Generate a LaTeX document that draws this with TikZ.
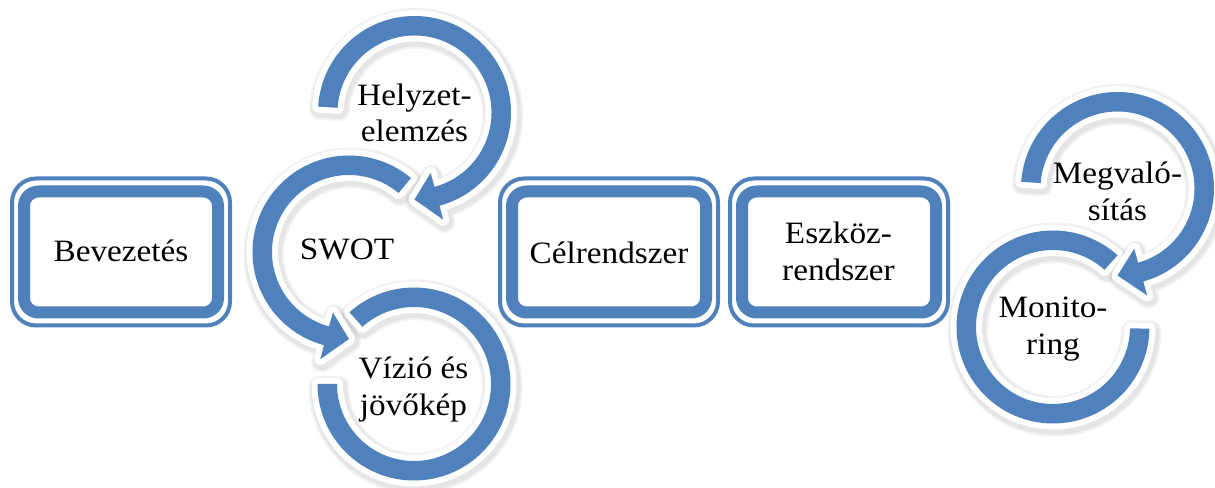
\documentclass[tikz,border=0pt]{standalone}
\usepackage{fontspec}
\setmainfont[FakeStretch=1.07]{Liberation Serif}
\definecolor{ablue}{RGB}{79,129,189}
\tikzset{
  lbl/.style={font=\fontsize{23.3pt}{27.6pt}\selectfont, align=center, inner sep=0pt, text=black},
  boxline/.style={draw=ablue, line width=3pt, rounded corners=18pt},
  boxband/.style={draw=ablue, line width=9pt, rounded corners=11pt},
  arrowshape/.style n args={3}{insert path={(#1:96.5) arc[start angle=#1,end angle=#2,radius=96.5] -- (#2:111) -- (#3:87) -- (#2:62.5) -- (#2:77) arc[start angle=#2,end angle=#1,radius=77] -- cycle}},
  ringshape/.style n args={2}{insert path={(#1:96.5) arc[start angle=#1,end angle=#2,radius=96.5] -- (#2:77) arc[start angle=#2,end angle=#1,radius=77] -- cycle}},
  shadowlayer/.style={draw=black, line join=round, draw opacity=0.05},
  whiteedge/.style={draw=white, fill=white, line width=9pt, line join=round},
  bluefill/.style={fill=ablue},
}
\newcommand\ArrowRing[4]{%
  \begin{scope}[shift={(#1)}]
    \path[shadowlayer, line width=16pt, shift={(1.5,2.5)}, arrowshape={#2}{#3}{#4}];
    \path[shadowlayer, line width=13pt, shift={(1.5,2.5)}, arrowshape={#2}{#3}{#4}];
    \path[whiteedge, arrowshape={#2}{#3}{#4}];
    \path[bluefill, arrowshape={#2}{#3}{#4}];
  \end{scope}}
\newcommand\PlainRing[3]{%
  \begin{scope}[shift={(#1)}]
    \path[shadowlayer, line width=16pt, shift={(1.5,2.5)}, ringshape={#2}{#3}];
    \path[shadowlayer, line width=13pt, shift={(1.5,2.5)}, ringshape={#2}{#3}];
    \path[whiteedge, ringshape={#2}{#3}];
    \path[bluefill, ringshape={#2}{#3}];
  \end{scope}}
\begin{document}
\begin{tikzpicture}[x=0.75pt,y=-0.75pt]
  \fill[white] (0,0) rectangle (1215,488);
  \useasboundingbox (0,0) rectangle (1215,488);
  % boxes
  \draw[boxline] (12,178.5) rectangle (230,325.5);
  \draw[boxband] (24,191.5) rectangle (218,312.5);
  \draw[boxline] (500,178.5) rectangle (718,325.5);
  \draw[boxband] (512,191.5) rectangle (706,312.5);
  \draw[boxline] (730,178.5) rectangle (948,325.5);
  \draw[boxband] (742,191.5) rectangle (936,312.5);
  % circular arrows
  \PlainRing{414,384}{180}{-132}
  \ArrowRing{349,252}{310}{105}{90}
  \ArrowRing{414.5,112.5}{183.5}{435}{450}
  \PlainRing{1053,327}{1}{312}
  \ArrowRing{1117.5,188.5}{184}{434.5}{450}
  % labels
  \node[lbl, anchor=base] (bev) at (121,262) {Bevezetés};
  \node[lbl, anchor=base] (cel) at (609,263.5) {Célrendszer};
  \node[lbl] (esz) at (838.5,251.4) {Eszköz-\\rendszer};
  \node[lbl] (hely) at (414.5,112.8) {Helyzet-\\elemzés};
  \node[lbl, anchor=base] (swot) at (347,260) {SWOT};
  \node[lbl] (viz) at (413.5,389.5) {Vízió és\\jövőkép};
  \node[lbl] (meg) at (1117.5,191) {Megvaló-\\sítás};
  \node[lbl] (mon) at (1053,329.4) {Monito-\\ring};
\end{tikzpicture}
\end{document}
